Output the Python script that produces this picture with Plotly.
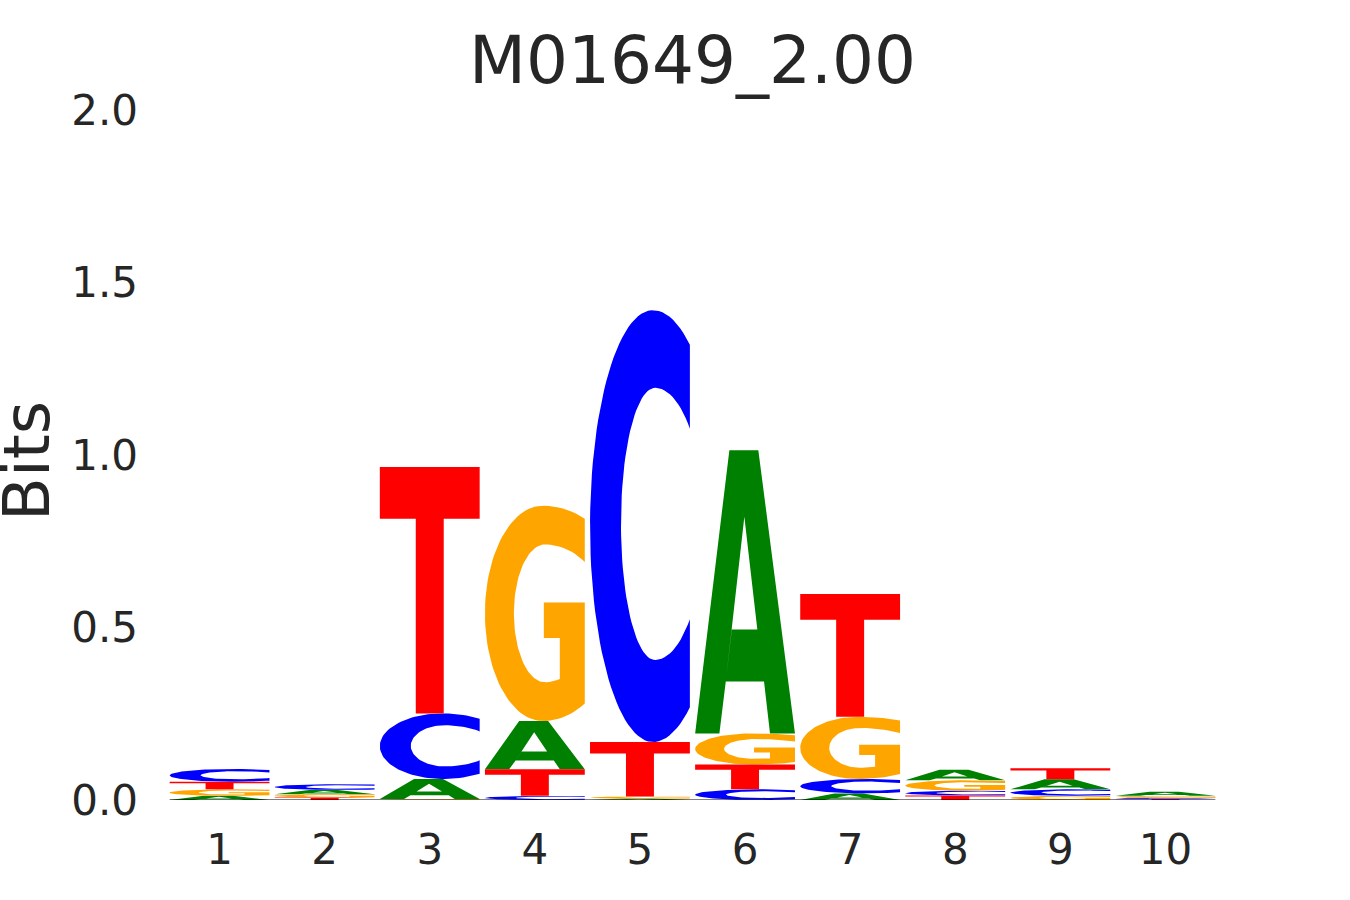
import numpy as np
import plotly.graph_objects as go

# ---------------- data ----------------
title_text = "M01649_2.00"
positions = [1, 2, 3, 4, 5, 6, 7, 8, 9, 10]
bits_A = [0.012, 0.012, 0.058, 0.140, 0.004, 0.821, 0.019, 0.031, 0.029, 0.012]
bits_C = [0.037, 0.017, 0.190, 0.012, 1.252, 0.031, 0.042, 0.014, 0.019, 0.004]
bits_G = [0.019, 0.010, 0.003, 0.624, 0.006, 0.090, 0.180, 0.030, 0.012, 0.005]
bits_T = [0.022, 0.007, 0.714, 0.077, 0.158, 0.072, 0.356, 0.013, 0.032, 0.003]
y_tick_vals = [0.0, 0.5, 1.0, 1.5, 2.0]
y_tick_text = ["0.0", "0.5", "1.0", "1.5", "2.0"]
x_tick_text = [str(p) for p in positions]

colors = {"A": "#008000", "C": "#0000ff", "G": "#ffa500", "T": "#ff0000"}
text_color = "#262626"
font_family = "DejaVu Sans"
letter_width = 0.95


# ---------------- glyph outlines (unit box) ----------------
def arc(cx, cy, ry, rx_fn, t0, t1, n=80):
    t = np.radians(np.linspace(t0, t1, n))
    xs, ys = [], []
    for a in t:
        c, s = np.cos(a), np.sin(a)
        rx = rx_fn(np.degrees(a) % 360)
        xs.append(cx + rx * c)
        ys.append(cy + ry * s)
    return xs, ys


def glyph_C():
    ocx, ocy, ory = 0.63, 0.5, 0.5
    o_l, o_r = 0.63, 0.68
    icx, icy, iry = 0.65, 0.505, 0.315
    i_l, i_r = 0.34, 0.49
    to = np.degrees(np.arccos((1.0 - ocx) / o_r))
    ti = np.degrees(np.arccos((1.0 - icx) / i_r))
    rxo = lambda d: o_r if (d <= 90 or d >= 270) else o_l
    rxi = lambda d: i_r if (d <= 90 or d >= 270) else i_l
    x1, y1 = arc(ocx, ocy, ory, rxo, to, 360 - to)
    x2, y2 = arc(icx, icy, iry, rxi, 360 - ti, ti)
    return x1 + x2, y1 + y2


def glyph_G():
    cx, cy, ry = 0.58, 0.5, 0.5
    r_ur, r_l, r_lr = 0.88, 0.58, 0.77
    t_start = np.degrees(np.arccos((1.0 - cx) / r_ur))
    t_end = 360 - np.degrees(np.arccos((1.0 - cx) / r_lr))

    def rxo(d):
        if d <= 90:
            return r_ur
        if d >= 270:
            return r_lr
        return r_l

    x1, y1 = arc(cx, cy, ry, rxo, t_start, t_end)
    bar_top, bar_left, bar_bot, stem_left = 0.55, 0.59, 0.385, 0.75
    icx, icy, iry = 0.60, 0.5, 0.32
    i_ur, i_l, i_lr = 0.60, 0.31, 0.50

    def rxi(d):
        if d <= 90:
            return i_ur
        if d >= 270:
            return i_lr
        return i_l

    ti_lr = 360 - np.degrees(np.arccos((stem_left - icx) / i_lr))
    ti_ur = np.degrees(np.arccos((1.0 - icx) / i_ur))
    x2, y2 = arc(icx, icy, iry, rxi, ti_lr, ti_ur)
    xs = x1 + [1.0, 1.0, bar_left, bar_left, stem_left, stem_left] + x2
    ys = y1 + [y1[-1], bar_top, bar_top, bar_bot, bar_bot, y2[0]] + y2
    return xs, ys


def glyph_T():
    xs = [0, 1, 1, 0.64, 0.64, 0.36, 0.36, 0]
    ys = [1, 1, 0.79, 0.79, 0, 0, 0.79, 0.79]
    return xs, ys


def glyph_A():
    xs = [0, 0.243, 0.307, 0.367, 0.493, 0.623, 0.367, 0.307, 0.69, 0.75, 1.0, 0.633, 0.343]
    ys = [0, 0, 0.183, 0.367, 0.765, 0.367, 0.367, 0.183, 0.183, 0, 0, 1, 1]
    return xs, ys


glyphs = {"A": glyph_A(), "C": glyph_C(), "G": glyph_G(), "T": glyph_T()}

# ---------------- build stacks ----------------
table = {"A": bits_A, "C": bits_C, "G": bits_G, "T": bits_T}
paths = {k: ([], []) for k in table}
for i, pos in enumerate(positions):
    col = sorted(table.keys(), key=lambda k: table[k][i])
    bottom = 0.0
    for k in col:
        h = table[k][i]
        gx, gy = glyphs[k]
        px = [pos - letter_width / 2 + letter_width * v for v in gx]
        py = [bottom + h * v for v in gy]
        paths[k][0].extend(px + [None])
        paths[k][1].extend(py + [None])
        bottom += h

fig = go.Figure()
for k in ["A", "C", "G", "T"]:
    fig.add_trace(go.Scatter(
        x=paths[k][0], y=paths[k][1], mode="lines", fill="toself",
        fillcolor=colors[k], line=dict(width=0, color=colors[k]),
        hoverinfo="skip", showlegend=False, name=k))

# baseline
fig.add_trace(go.Scatter(
    x=[positions[0] - letter_width / 2, positions[-1] + letter_width / 2], y=[0, 0],
    mode="lines", line=dict(color="black", width=1), hoverinfo="skip", showlegend=False))

W, H = 1350, 900
ml, mr, mt, mb = 167, 132, 110, 100
plot_w = W - ml - mr
plot_h = H - mt - mb

fig.update_layout(
    width=W, height=H, autosize=False,
    margin=dict(l=ml, r=mr, t=mt, b=mb, pad=0),
    paper_bgcolor="white", plot_bgcolor="white",
    font=dict(family=font_family, color=text_color),
    title=dict(text=title_text, x=(ml + plot_w / 2) / W, xanchor="center",
               y=1 - 60 / H, yanchor="middle", yref="container", xref="container",
               font=dict(size=66, color=text_color, family=font_family)),
    xaxis=dict(range=[0.5, 10.5], tickvals=positions, ticktext=x_tick_text,
               showgrid=False, zeroline=False, showline=False, ticks="",
               tickfont=dict(size=42, color=text_color), ticklabelstandoff=21),
    yaxis=dict(range=[0, 2], tickvals=y_tick_vals, ticktext=y_tick_text,
               showgrid=False, zeroline=False, showline=False, ticks="",
               tickfont=dict(size=42, color=text_color), ticklabelstandoff=28),
    annotations=[dict(text="Bits", textangle=-90, showarrow=False,
                      xref="paper", yref="paper", x=(27 - ml) / plot_w,
                      y=0.5 - 6 / plot_h,
                      xanchor="center", yanchor="middle",
                      font=dict(size=64, color=text_color, family=font_family))],
)

fig.write_html("out.html", post_script="document.body.style.margin='0';",
               config={"displayModeBar": False})
